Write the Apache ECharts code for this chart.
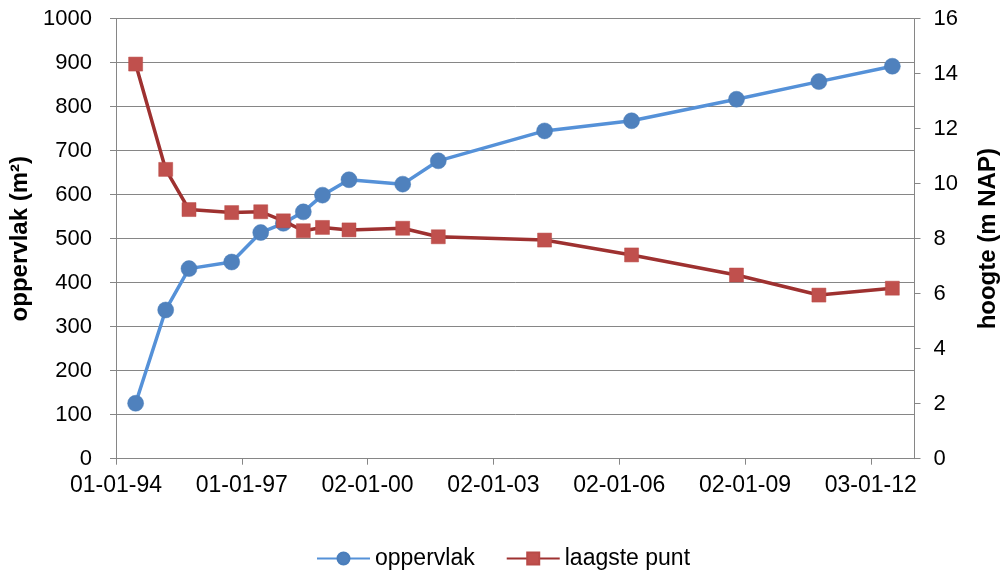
<!DOCTYPE html>
<html>
<head>
<meta charset="utf-8">
<script src="https://cdn.jsdelivr.net/npm/echarts@6/dist/echarts.min.js"></script>
<style>
  html, body { margin: 0; padding: 0; background: #fff; }
  #chart { width: 1000px; height: 570px; }
</style>
</head>
<body>
<div id="chart"></div>
<script>
// Meetdata: datum van opname, oppervlak (m²) en laagste punt (m NAP)
const dates = ['1994-06-21', '1995-03-10', '1995-09-29', '1996-10-05', '1997-06-15', '1997-12-29',
  '1998-06-21', '1998-12-05', '1999-07-24', '2000-11-03', '2001-09-09', '2004-03-23',
  '2006-04-20', '2008-10-20', '2010-10-08', '2012-07-09'];
const oppervlak = [126, 338, 432, 447, 514, 535, 561, 599, 634, 624, 677, 745, 768, 817, 857, 892];
const laagstePunt = [14.35, 10.52, 9.06, 8.95, 8.98, 8.65, 8.29, 8.41, 8.32, 8.38, 8.07, 7.95, 7.41, 6.68, 5.95, 6.20];

// Time axis expressed in days since 01-01-1994, ticks every 1096 days
const EPOCH = Date.UTC(1994, 0, 1);
const DAY = 86400000;
const xMinDays = 0;
const xMaxDays = 6957;
const xStepDays = 1096;

function toDays(iso) {
  const p = iso.split('-').map(Number);
  return Math.round((Date.UTC(p[0], p[1] - 1, p[2]) - EPOCH) / DAY);
}
function fmtDate(v) {
  const d = new Date(EPOCH + v * DAY);
  const dd = String(d.getUTCDate()).padStart(2, '0');
  const mm = String(d.getUTCMonth() + 1).padStart(2, '0');
  const yy = String(d.getUTCFullYear() % 100).padStart(2, '0');
  return dd + '-' + mm + '-' + yy;
}

const xs = dates.map(toDays);
const opData = xs.map((x, i) => [x, oppervlak[i]]);
const lpData = xs.map((x, i) => [x, laagstePunt[i]]);

const FONT = '"Liberation Sans", Arial, sans-serif';
const AXIS_GRAY = '#868686';

const chart = echarts.init(document.getElementById('chart'), null, { renderer: 'canvas' });
chart.setOption({
  animation: false,
  textStyle: { fontFamily: FONT, color: '#000' },
  grid: {
    left: 116, right: 85.5, top: 18.7, bottom: 111.3,
    containLabel: false,
    outerBoundsMode: 'none'
  },
  legend: {
    top: 542,
    left: 311,
    itemWidth: 53,
    itemHeight: 15,
    itemGap: 31,
    textStyle: { fontFamily: FONT, fontSize: 23, color: '#000' },
    data: ['oppervlak', 'laagste punt']
  },
  xAxis: {
    type: 'value',
    min: xMinDays,
    max: xMaxDays,
    interval: xStepDays,
    splitLine: { show: false },
    axisLine: { show: true, lineStyle: { color: AXIS_GRAY, width: 1 } },
    axisTick: { show: true, inside: false, length: 6, lineStyle: { color: AXIS_GRAY } },
    axisLabel: {
      showMaxLabel: false,
      margin: 15,
      fontSize: 23,
      color: '#000',
      fontFamily: FONT,
      formatter: fmtDate
    }
  },
  yAxis: [
    {
      type: 'value',
      min: 0,
      max: 1000,
      interval: 100,
      position: 'left',
      name: 'oppervlak (m²)',
      nameLocation: 'middle',
      nameGap: 82,
      nameTextStyle: { fontFamily: FONT, fontSize: 24, fontWeight: 'bold', color: '#000' },
      axisLine: { show: true, lineStyle: { color: AXIS_GRAY, width: 1 } },
      axisTick: { show: true, inside: false, length: 6, lineStyle: { color: AXIS_GRAY } },
      splitLine: { show: true, lineStyle: { color: AXIS_GRAY, width: 1 } },
      axisLabel: { margin: 24, fontSize: 22, color: '#000', fontFamily: FONT, formatter: v => String(v) }
    },
    {
      type: 'value',
      min: 0,
      max: 16,
      interval: 2,
      position: 'right',
      name: 'hoogte (m NAP)',
      nameLocation: 'middle',
      nameGap: 62,
      nameRotate: 90,
      nameTextStyle: { fontFamily: FONT, fontSize: 24, fontWeight: 'bold', color: '#000' },
      axisLine: { show: true, lineStyle: { color: AXIS_GRAY, width: 1 } },
      axisTick: { show: true, inside: false, length: 6, lineStyle: { color: AXIS_GRAY } },
      splitLine: { show: false },
      axisLabel: { margin: 19, fontSize: 22, color: '#000', fontFamily: FONT, formatter: v => String(v) }
    }
  ],
  series: [
    {
      name: 'oppervlak',
      type: 'line',
      yAxisIndex: 0,
      data: opData,
      symbol: 'circle',
      symbolSize: 16,
      showAllSymbol: true,
      lineStyle: { color: '#5591D8', width: 3.5 },
      itemStyle: { color: '#4F81BD', borderColor: '#4A7EBB', borderWidth: 0.5 },
      z: 2
    },
    {
      name: 'laagste punt',
      type: 'line',
      yAxisIndex: 1,
      data: lpData,
      symbol: 'rect',
      symbolSize: 14,
      showAllSymbol: true,
      lineStyle: { color: '#9E3130', width: 3.5 },
      itemStyle: { color: '#C0504D', borderColor: '#B84A47', borderWidth: 0.5 },
      z: 3
    }
  ]
});
</script>
</body>
</html>
